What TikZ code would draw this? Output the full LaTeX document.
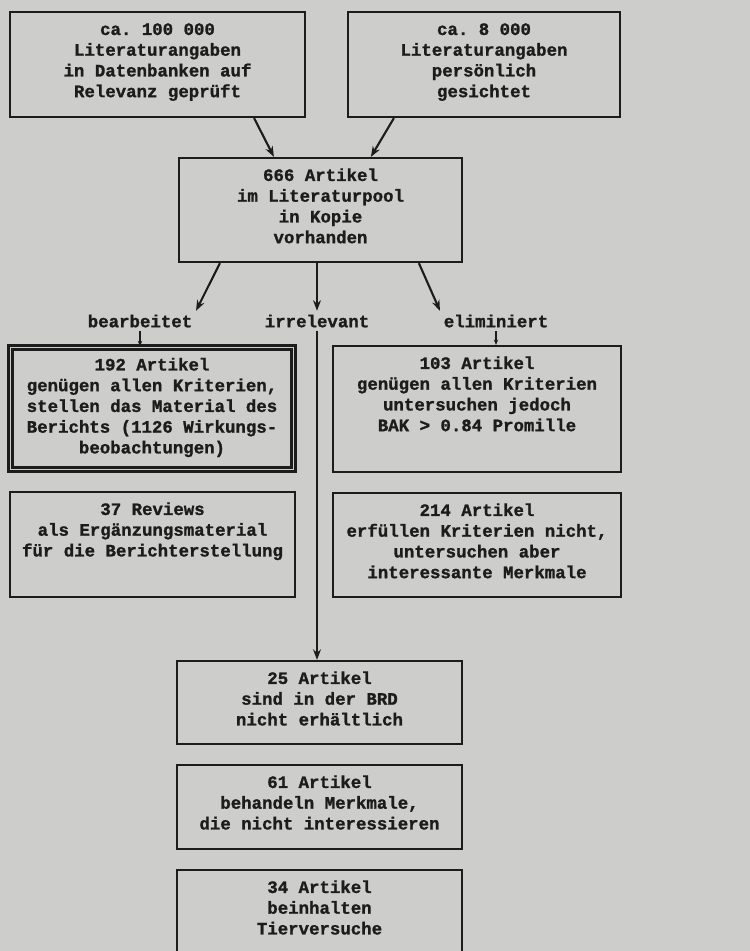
\documentclass[tikz,border=0pt]{standalone}
\usepackage{fontspec}
\setmonofont{Liberation Mono}[BoldFeatures={FakeBold=1.2}]
\usepackage{tikz}
\usetikzlibrary{arrows.meta,positioning,calc}

\definecolor{paper}{RGB}{205,205,203}
\definecolor{ink}{RGB}{28,28,28}

\newcommand{\boxfont}{\ttfamily\bfseries\fontsize{9.9pt}{11.8pt}\selectfont}
% fixed-size box text, lines hang from the top edge
\newcommand{\boxtext}[3]{\parbox[c][#1][t]{#2}{\boxfont\centering\vspace*{4.8pt}\strut #3}}

\begin{document}
\begin{tikzpicture}[x=0.02cm, y=-0.02cm,
    box/.style={draw=ink, line width=1.3pt, inner sep=0pt, text=ink},
    dbox/.style={box, line width=1.5pt, double=paper, double distance=0.6pt},
    lbl/.style={inner sep=2pt, text=ink, font=\boxfont},
    arr/.style={draw=ink, line width=1.2pt, -{Stealth[length=6pt,width=4.5pt]}},
    tick/.style={draw=ink, line width=0.7pt, -{Stealth[length=3pt,width=2.5pt]}}]
    \useasboundingbox (0,0) rectangle (750,951);
    \fill[paper] (0,0) rectangle (750,951);
    \clip (0,0) rectangle (750,951);

    % Sources
    \node[box] (lit) at (157.5,64.5) {\boxtext{2.1cm}{5.9cm}{ca. 100 000\\Literaturangaben\\in Datenbanken auf\\Relevanz geprüft}};
    \node[box] (pers) at (484,64.5) {\boxtext{2.1cm}{5.44cm}{ca. 8 000\\Literaturangaben\\persönlich\\gesichtet}};

    % Pool
    \node[box] (pool) at (320.5,210) {\boxtext{2.08cm}{5.66cm}{666 Artikel\\im Literaturpool\\in Kopie\\vorhanden}};
    \draw[arr] ($(lit.south east)+(-52,0)$) -- ($(pool.north west)+(96,0)$);
    \draw[arr] ($(pers.south west)+(47,0)$) -- ($(pool.north west)+(193,0)$);

    % Split
    \node[lbl] (bear) at (140,321) {bearbeitet};
    \node[lbl] (irr) at (317,321) {irrelevant};
    \node[lbl] (elim) at (496,321) {eliminiert};
    \draw[arr] ($(pool.south west)+(42,0)$) -- (bear.north east);
    \draw[arr] (pool.south -| irr.north) -- (irr.north);
    \draw[arr] ($(pool.south west)+(241,0)$) -- (elim.north west);

    % bearbeitet
    \node[dbox] (used) at (152,408.5) {\boxtext{2.44cm}{5.66cm}{192 Artikel\\genügen allen Kriterien,\\stellen das Material des\\Berichts (1126 Wirkungs-\\beobachtungen)}};
    \node[box] (rev) at (152.5,544.5) {\boxtext{2.1cm}{5.7cm}{37 Reviews\\als Ergänzungsmaterial\\für die Berichterstellung}};
    \draw[tick] (bear.south) -- (bear.south |- used.north);

    % eliminiert
    \node[box] (bak) at (477,409) {\boxtext{2.52cm}{5.76cm}{103 Artikel\\genügen allen Kriterien\\untersuchen jedoch\\BAK > 0.84 Promille}};
    \node[box] (crit) at (477,545) {\boxtext{2.08cm}{5.76cm}{214 Artikel\\erfüllen Kriterien nicht,\\untersuchen aber\\interessante Merkmale}};
    \draw[tick] (elim.south) -- (elim.south |- bak.north);

    % irrelevant
    \node[box] (brd) at (319.5,702.5) {\boxtext{1.66cm}{5.7cm}{25 Artikel\\sind in der BRD\\nicht erhältlich}};
    \node[box] (merk) at (319.5,807) {\boxtext{1.68cm}{5.7cm}{61 Artikel\\behandeln Merkmale,\\die nicht interessieren}};
    \node[box] (tier) at (319.5,915) {\boxtext{1.8cm}{5.7cm}{34 Artikel\\beinhalten\\Tierversuche}};
    \draw[arr] (irr.south) -- (irr.south |- brd.north);
\end{tikzpicture}
\end{document}
